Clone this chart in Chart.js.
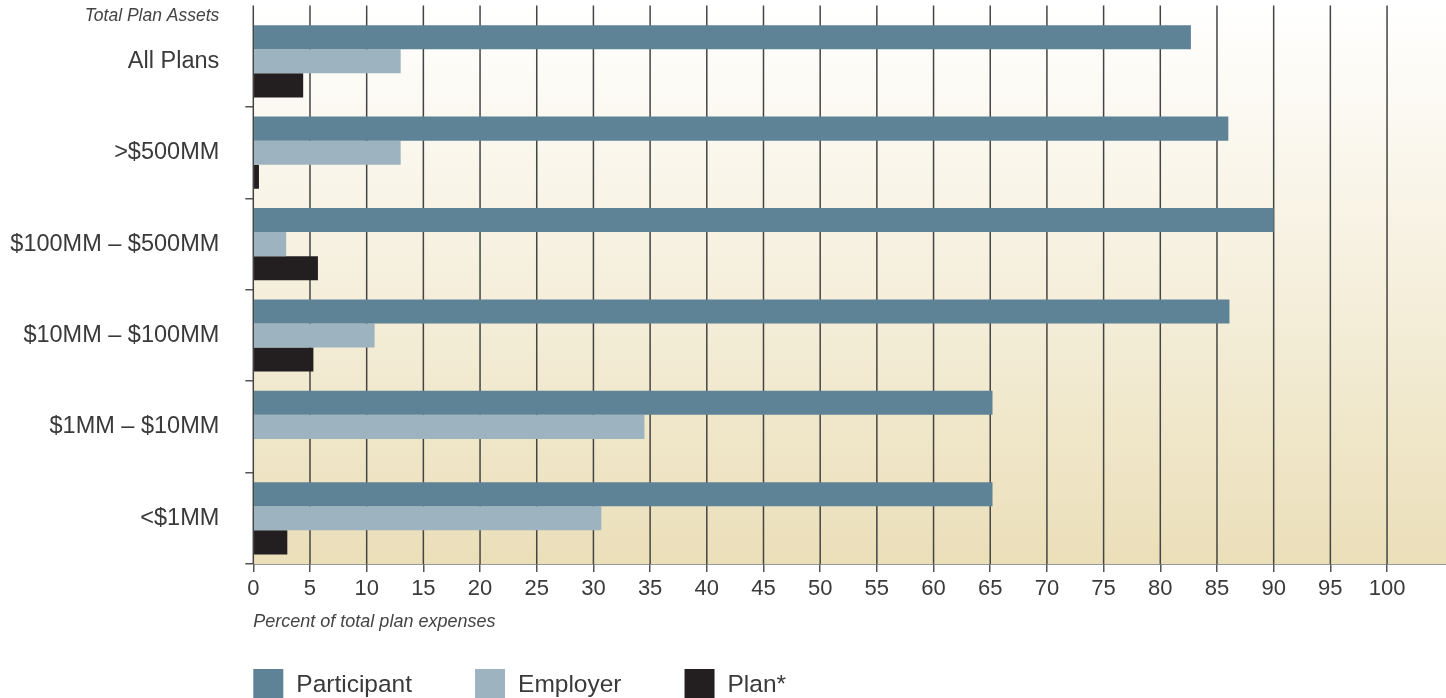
<!DOCTYPE html>
<html>
<head>
<meta charset="utf-8">
<script src="https://cdn.jsdelivr.net/npm/chart.js@4/dist/chart.umd.min.js"></script>
<style>
  html, body { margin: 0; padding: 0; background: #ffffff; }
  #wrap { width: 1446px; height: 698px; }
</style>
</head>
<body>
<div id="wrap"><canvas id="c" width="1446" height="698"></canvas></div>
<script>
// ---- data ----
const categories = ["All Plans", ">$500MM", "$100MM – $500MM", "$10MM – $100MM", "$1MM – $10MM", "<$1MM"];
const participant = [82.7, 86.0, 90.0, 86.1, 65.2, 65.2];
const employer = [13.0, 13.0, 2.9, 10.7, 34.5, 30.7];
const plan = [4.4, 0.5, 5.7, 5.3, 0, 3.0];
const seriesNames = ["Participant", "Employer", "Plan*"];
const xTickMax = 100;
const xTickStep = 5;
const yAxisTitle = "Total Plan Assets";
const xAxisTitle = "Percent of total plan expenses";

const FONT = "'Liberation Sans', Arial, Helvetica, sans-serif";
const colors = ["#5e8397", "#9db4c0", "#231f20"];

const bgAndGrid = {
  id: 'bgAndGrid',
  beforeDatasetsDraw(chart) {
    const {ctx, chartArea} = chart;
    const xs = chart.scales.x;
    const top = chartArea.top - 10;
    const g = ctx.createLinearGradient(0, top, 0, chartArea.bottom);
    g.addColorStop(0, '#ffffff');
    g.addColorStop(1, '#ebdfb9');
    ctx.save();
    ctx.fillStyle = g;
    ctx.fillRect(chartArea.left, top, chartArea.right - chartArea.left, chartArea.bottom - top);
    ctx.strokeStyle = '#444444';
    ctx.lineWidth = 1.5;
    xs.ticks.forEach(t => {
      const px = xs.getPixelForValue(t.value);
      ctx.beginPath();
      ctx.moveTo(px, top);
      ctx.lineTo(px, chartArea.bottom);
      ctx.stroke();
    });
    ctx.restore();
  },
  afterDraw(chart) {
    const {ctx, chartArea} = chart;
    ctx.save();
    // y-axis heading
    ctx.font = "italic 17.5px " + FONT;
    ctx.fillStyle = '#444444';
    ctx.textAlign = 'right';
    ctx.textBaseline = 'middle';
    ctx.fillText(yAxisTitle, chartArea.left - 34, chartArea.top + 1);
    // legend
    ctx.font = "24.5px " + FONT;
    ctx.textAlign = 'left';
    let x = chartArea.left;
    const boxTop = chart.height - 29;
    chart.data.datasets.forEach(ds => {
      ctx.fillStyle = ds.backgroundColor;
      ctx.fillRect(x, boxTop, 30, 30);
      ctx.fillStyle = '#3a3a3a';
      ctx.fillText(ds.label, x + 43, boxTop + 16);
      x += 43 + ctx.measureText(ds.label).width + 63;
    });
    ctx.restore();
  }
};

new Chart(document.getElementById('c'), {
  type: 'bar',
  data: {
    labels: categories,
    datasets: [
      { label: seriesNames[0], data: participant, backgroundColor: colors[0] },
      { label: seriesNames[1], data: employer, backgroundColor: colors[1] },
      { label: seriesNames[2], data: plan, backgroundColor: colors[2] }
    ]
  },
  options: {
    indexAxis: 'y',
    responsive: false,
    animation: false,
    layout: { padding: { top: 15.6, right: 0, bottom: 0, left: 0 } },
    datasets: { bar: { categoryPercentage: 0.79, barPercentage: 1.0, borderWidth: 0 } },
    plugins: { legend: { display: false }, tooltip: { enabled: false } },
    scales: {
      x: {
        type: 'linear',
        min: 0,
        max: 105.2,
        afterBuildTicks(scale) {
          scale.ticks = scale.ticks.filter(t => t.value <= xTickMax);
        },
        afterFit(scale) {
          scale.height = 134;
          scale.paddingLeft = 0;
          scale.paddingRight = 0;
        },
        ticks: {
          stepSize: xTickStep,
          padding: 4,
          color: '#3a3a3a',
          font: { family: FONT, size: 22 },
          maxRotation: 0,
          autoSkip: false
        },
        grid: {
          drawOnChartArea: false,
          drawTicks: true,
          tickLength: 8,
          color: '#555555',
          lineWidth: 1.5
        },
        border: { display: true, color: '#333333', width: 1.5 },
        title: {
          display: true,
          text: xAxisTitle,
          align: 'start',
          color: '#444444',
          font: { family: FONT, size: 18, style: 'italic' },
          padding: { top: 0, bottom: 65 }
        }
      },
      y: {
        afterFit(scale) {
          scale.width = 253.3;
          scale.paddingTop = 0;
          scale.paddingBottom = 0;
        },
        ticks: {
          padding: 26,
          color: '#3a3a3a',
          font: { family: FONT, size: 23.5 }
        },
        grid: {
          offset: true,
          drawOnChartArea: false,
          drawTicks: true,
          tickLength: 8,
          lineWidth: 1.5,
          color: (ctx) => ctx.index === 0 ? 'rgba(0,0,0,0)' : '#555555'
        },
        border: { display: false }
      }
    }
  },
  plugins: [bgAndGrid]
});
</script>
</body>
</html>
